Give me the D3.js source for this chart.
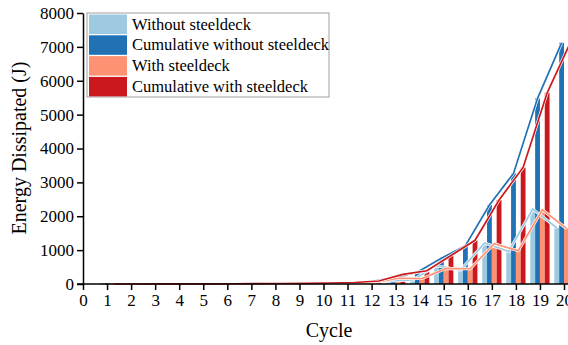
<!DOCTYPE html>
<html>
<head>
<meta charset="utf-8">
<script src="https://cdn.jsdelivr.net/npm/d3@7"></script>
<style>
  body { margin: 0; background: #fff; }
  svg { display: block; font-family: "Liberation Serif", "Times New Roman", serif; }
</style>
</head>
<body>
<div id="chart"></div>
<script>
  // cycles 1..20, values (J)
  var cycles = d3.range(1, 21);
  var tickLabels = d3.range(0, 21);
  var yTicks = [0, 1000, 2000, 3000, 4000, 5000, 6000, 7000, 8000];

  var withoutDeck = [0, 0, 1, 1, 2, 2, 3, 4, 5, 7, 10, 20, 90, 120, 540, 410, 1210, 960, 2210, 1660];
  var cumWithoutDeck = [0, 0, 1, 2, 4, 6, 9, 13, 18, 25, 35, 55, 190, 345, 760, 1130, 2330, 3265, 5480, 7120];
  var withDeck = [0, 0, 1, 1, 2, 3, 3, 5, 6, 9, 15, 40, 170, 160, 460, 450, 1190, 980, 2190, 1640];
  var cumWithDeck = [0, 0, 1, 2, 4, 7, 10, 15, 21, 30, 45, 88, 285, 390, 840, 1290, 2480, 3440, 5645, 7180];

  var seriesNames = ["Without steeldeck", "Cumulative without steeldeck", "With steeldeck", "Cumulative with steeldeck"];
  var seriesColors = ["#9ecae1", "#2171b5", "#fc9272", "#cb181d"];
  var seriesValues = [withoutDeck, cumWithoutDeck, withDeck, cumWithDeck];

  var W = 568, H = 345;
  var svg = d3.select("#chart").append("svg")
    .attr("width", W)
    .attr("height", H);

  var x = d3.scaleLinear().domain([0, 20]).range([83, 564]);
  var y = d3.scaleLinear().domain([0, 8000]).range([284, 13]);
  var step = x(1) - x(0);
  var x1 = d3.scaleBand().domain(seriesNames).range([-0.4 * step, 0.4 * step]);

  // bars
  seriesNames.forEach(function (name, i) {
    svg.append("g").selectAll("rect")
      .data(cycles)
      .enter().append("rect")
      .attr("x", function (d) { return x(d) + x1(name); })
      .attr("width", x1.bandwidth())
      .attr("y", function (d, j) { return y(seriesValues[i][j]); })
      .attr("height", function (d, j) { return y(0) - y(seriesValues[i][j]); })
      .style("fill", seriesColors[i]);
  });

  // lines through bar tops, thin white casing underneath
  var line = function (i) {
    return d3.line()
      .x(function (d) { return x(d) + x1(seriesNames[i]) + x1.bandwidth() / 2; })
      .y(function (d, j) { return y(seriesValues[i][j]); });
  };
  seriesNames.forEach(function (name, i) {
    svg.append("path")
      .attr("d", line(i)(cycles))
      .style("fill", "none")
      .style("stroke", "#fff")
      .style("stroke-width", 3);
    svg.append("path")
      .attr("d", line(i)(cycles))
      .style("fill", "none")
      .style("stroke", seriesColors[i])
      .style("stroke-width", 1.7);
  });

  // axes
  var xAxis = svg.append("g")
    .attr("transform", "translate(0," + y(0) + ")")
    .call(d3.axisBottom(x).tickValues(tickLabels).tickFormat(d3.format("d")).tickSize(6).tickSizeOuter(0))
    .attr("font-family", "Liberation Serif")
    .attr("font-size", 17);
  xAxis.select(".domain").attr("d", "M" + (x(0) - 6) + ",0H" + (W + 10));
  xAxis.selectAll("line").style("stroke", "#000").style("stroke-width", 1.5);
  xAxis.select(".domain").style("stroke", "#000").style("stroke-width", 1.5);
  xAxis.selectAll("text")
    .attr("y", 10)
    .style("fill", "#000");

  var yAxis = svg.append("g")
    .attr("transform", "translate(" + x(0) + ",0)")
    .call(d3.axisLeft(y).tickValues(yTicks).tickFormat(d3.format("d")).tickSize(6).tickSizeOuter(0))
    .attr("font-family", "Liberation Serif")
    .attr("font-size", 17);
  yAxis.selectAll("line").style("stroke", "#000").style("stroke-width", 1.5);
  yAxis.select(".domain").style("stroke", "#000").style("stroke-width", 1.5);
  yAxis.selectAll("text")
    .attr("x", -9)
    .style("fill", "#000");

  svg.append("text")
    .attr("x", 329)
    .attr("y", 337)
    .attr("text-anchor", "middle")
    .style("font-size", "20px")
    .text("Cycle");

  svg.append("text")
    .attr("transform", "translate(26,148) rotate(-90)")
    .attr("text-anchor", "middle")
    .style("font-size", "20px")
    .text("Energy Dissipated (J)");

  // legend
  var legend = svg.append("g").attr("transform", "translate(87,13)");
  legend.append("rect")
    .attr("width", 242)
    .attr("height", 84)
    .style("fill", "#fff")
    .style("fill-opacity", 0.85)
    .style("stroke", "#a0a0a0")
    .style("stroke-width", 1);
  var items = legend.selectAll(".item")
    .data(seriesNames)
    .enter().append("g")
    .attr("class", "item")
    .attr("transform", function (d, i) { return "translate(2," + (1.5 + i * 20.8) + ")"; });
  items.append("rect")
    .attr("width", 38)
    .attr("height", 19.5)
    .style("fill", function (d, i) { return seriesColors[i]; });
  items.append("text")
    .attr("x", 43)
    .attr("y", 15)
    .style("font-size", "16.5px")
    .text(function (d) { return d; });
</script>
</body>
</html>
